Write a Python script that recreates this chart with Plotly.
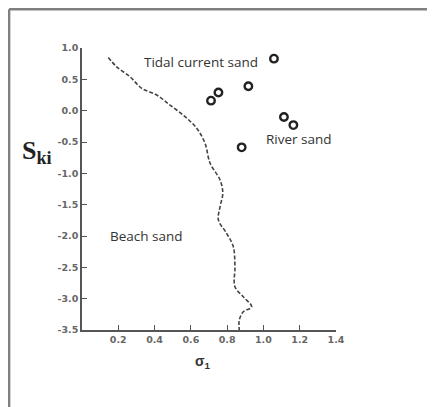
import plotly.graph_objects as go

# Sample points (sigma_1, Ski)
pts_x = [1.058, 0.917, 0.752, 0.711, 1.113, 1.165, 0.880]
pts_y = [0.83, 0.39, 0.29, 0.16, -0.10, -0.23, -0.585]

# Dashed boundary line between beach sand and tidal/river sand
line_x = [0.145, 0.191, 0.265, 0.329, 0.412, 0.485, 0.568, 0.632, 0.678, 0.706,
          0.761, 0.776, 0.761, 0.752, 0.797, 0.834, 0.843, 0.843, 0.889, 0.935,
          0.889, 0.867, 0.867]
line_y = [0.85, 0.70, 0.54, 0.357, 0.25, 0.09, -0.096, -0.28, -0.52, -0.84,
          -1.106, -1.32, -1.53, -1.745, -1.957, -2.17, -2.49, -2.81, -2.97, -3.13,
          -3.21, -3.34, -3.5]

x_ticks = [0.2, 0.4, 0.6, 0.8, 1.0, 1.2, 1.4]
x_tick_labels = ["0.2", "0.4", "0.6", "0.8", "1.0", "1.2", "1.4"]
y_ticks = [1.0, 0.5, 0.0, -0.5, -1.0, -1.5, -2.0, -2.5, -3.0, -3.5]
y_tick_labels = ["1.0", "0.5", "0.0", "-0.5", "-1.0", "-1.5", "-2.0", "-2.5", "-3.0", "-3.5"]

region_labels = ["Tidal current sand", "River sand", "Beach sand"]
region_x = [0.656, 1.196, 0.355]
region_y = [0.78, -0.457, -2.0]

fig = go.Figure()
fig.add_trace(go.Scatter(x=line_x, y=line_y, mode="lines", line_shape="spline",
                         line=dict(color="#444444", width=1.6, dash="4px,2px"),
                         hoverinfo="skip", showlegend=False))
fig.add_trace(go.Scatter(x=pts_x, y=pts_y, mode="markers",
                         marker=dict(symbol="circle-open", size=7.5, color="#222222",
                                     line=dict(width=2.4, color="#222222")),
                         showlegend=False))

for t, xx, yy in zip(region_labels, region_x, region_y):
    fig.add_annotation(x=xx, y=yy, text=t, showarrow=False,
                       xanchor="center", yanchor="middle",
                       font=dict(family="Open Sans", size=13.5, color="#333333"))

fig.add_annotation(xref="paper", yref="paper", x=-0.177, y=0.631,
                   xanchor="center", yanchor="middle",
                   text="<b>S<sub>ki</sub></b>", showarrow=False,
                   font=dict(family="Liberation Serif", size=26, color="#222222"))
fig.add_annotation(xref="paper", yref="paper", x=0.476, y=-0.113,
                   xanchor="center", yanchor="middle",
                   text="<b>σ<sub>1</sub></b>", showarrow=False,
                   font=dict(family="Liberation Sans", size=14, color="#333333"))

# frame: top and left edges only (right/bottom fall outside the picture)
fig.add_shape(type="line", xref="paper", yref="paper",
              x0=-0.287, x1=1.6, y0=1.137, y1=1.137,
              line=dict(color="#808080", width=2.5), layer="below")
fig.add_shape(type="line", xref="paper", yref="paper",
              x0=-0.287, x1=-0.287, y0=-0.35, y1=1.137,
              line=dict(color="#808080", width=2.5), layer="below")

fig.update_layout(
    width=427, height=399,
    margin=dict(l=74, r=99, t=40, b=77),
    plot_bgcolor="white", paper_bgcolor="white",
    xaxis=dict(range=[0, 1.4], tickvals=x_ticks, ticktext=x_tick_labels,
               showgrid=False, zeroline=False, showline=True, linecolor="#555555",
               linewidth=1.5, ticks="inside", ticklen=5, tickcolor="#555555",
               tickfont=dict(family="DejaVu Sans", size=9.5, color="#666666", weight="bold")),
    yaxis=dict(range=[-3.5, 1.0], tickvals=y_ticks, ticktext=y_tick_labels,
               showgrid=False, zeroline=False, showline=True, linecolor="#555555",
               linewidth=1.5, ticks="inside", ticklen=5, tickcolor="#555555",
               tickfont=dict(family="DejaVu Sans", size=9.5, color="#666666", weight="bold")),
)

fig.write_html("out.html")
